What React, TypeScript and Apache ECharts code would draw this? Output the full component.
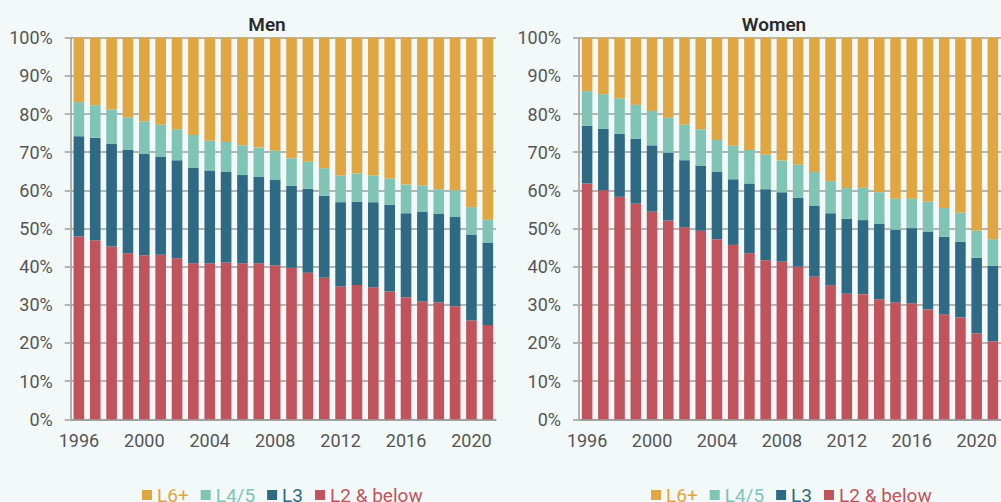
import React, { useEffect, useRef } from 'react';
import * as echarts from 'echarts';

const years = ['1996','1997','1998','1999','2000','2001','2002','2003','2004','2005','2006','2007','2008','2009','2010','2011','2012','2013','2014','2015','2016','2017','2018','2019','2020','2021'];

const seriesNames = ['L2 & below', 'L3', 'L4/5', 'L6+'];
const legendOrder = ['L6+', 'L4/5', 'L3', 'L2 & below'];

const menL2 = [47.9,46.9,45.3,43.5,43.0,43.1,42.2,40.9,40.9,41.1,40.9,40.9,40.3,39.7,38.4,37.1,34.8,35.2,34.6,33.5,32.0,30.9,30.6,29.6,25.9,24.7];
const menL3 = [26.3,26.9,26.9,27.1,26.5,25.8,25.7,25.0,24.3,23.7,23.1,22.6,22.4,21.5,22.0,21.5,22.1,21.8,22.3,22.7,22.0,23.4,23.2,23.4,22.5,21.5];
const menL45 = [8.9,8.5,9.0,8.5,8.6,8.3,8.1,8.6,7.8,7.9,7.8,7.7,7.7,7.2,7.1,7.2,7.0,7.4,7.0,6.9,7.5,7.0,6.5,7.0,7.2,6.1];
const menL6 = [16.9,17.7,18.8,20.9,21.9,22.8,24.0,25.5,27.0,27.3,28.2,28.8,29.6,31.6,32.5,34.2,36.1,35.6,36.1,36.9,38.5,38.7,39.7,40.0,44.4,47.7];

const womenL2 = [61.8,60.0,58.3,56.5,54.4,52.1,50.3,49.4,47.2,45.7,43.5,41.7,41.3,40.0,37.4,35.1,32.9,32.8,31.4,30.6,30.4,28.8,27.5,26.7,22.5,20.4];
const womenL3 = [15.1,16.1,16.5,17.0,17.4,17.8,17.6,17.1,17.6,17.2,18.3,18.6,18.2,18.0,18.5,18.9,19.6,19.4,19.8,19.1,19.7,20.4,20.3,19.8,19.8,19.8];
const womenL45 = [9.1,9.1,9.3,8.9,9.0,9.1,9.3,9.5,8.4,8.8,8.8,9.0,8.3,8.7,8.9,8.4,8.1,8.5,8.3,8.1,7.7,7.8,7.6,7.6,7.1,7.0];
const womenL6 = [14.0,14.8,15.9,17.6,19.2,21.0,22.8,24.0,26.8,28.3,29.4,30.7,32.2,33.3,35.2,37.6,39.4,39.3,40.5,42.2,42.2,43.0,44.6,45.9,50.6,52.8];

const panelTitles = ['Men', 'Women'];

const colors: Record<string, string> = {
  'L6+': '#e0a642',
  'L4/5': '#80c4b5',
  'L3': '#2e6a83',
  'L2 & below': '#c0535c',
};

const BG = '#f3f8f8';
const FONT = 'Roboto, "DejaVu Sans", sans-serif';

export default function App() {
  const ref = useRef<HTMLDivElement>(null);
  useEffect(() => {
    if (!ref.current) return;
    const chart = echarts.init(ref.current, null, { renderer: 'svg', width: 1001, height: 502 });
    const panels = [
      { left: 70.7, data: [menL2, menL3, menL45, menL6], titleX: 267, legendLeft: 137 },
      { left: 579, data: [womenL2, womenL3, womenL45, womenL6], titleX: 774, legendLeft: 646 },
    ];
    const gridW = 425.3;
    const option: any = {
      animation: false,
      backgroundColor: BG,
      grid: panels.map((p) => ({ left: p.left, top: 37.7, width: gridW, height: 381.6 })),
      xAxis: panels.map((p, i) => ({
        type: 'category',
        gridIndex: i,
        data: years,
        axisLine: { show: true, lineStyle: { color: '#9a9a9a', width: 1.5 } },
        axisTick: { show: false },
        axisLabel: { interval: 3, color: '#555', fontSize: 18, fontFamily: FONT, margin: 12 },
      })),
      yAxis: panels.map((p, i) => ({
        type: 'value',
        gridIndex: i,
        min: 0,
        max: 100,
        interval: 10,
        axisLine: { show: true, lineStyle: { color: '#9a9a9a', width: 1.5 } },
        axisTick: { show: true, length: 6, lineStyle: { color: '#b5b5b5', width: 2 } },
        splitLine: { show: true, lineStyle: { color: '#b5b5b5', width: 2 } },
        axisLabel: { formatter: '{value}%', color: '#555', fontSize: 18, fontFamily: FONT, margin: 18 },
      })),
      legend: panels.map((p) => ({
        left: p.legendLeft,
        top: 480.5,
        icon: 'rect',
        itemWidth: 10,
        itemHeight: 10,
        itemGap: 12,
        textStyle: { fontSize: 19, fontFamily: FONT },
        data: legendOrder.map((n) => ({ name: n, textStyle: { color: colors[n] } })),
      })),
      graphic: panels.map((p, i) => ({
        type: 'text',
        x: p.titleX,
        y: 24,
        style: {
          text: panelTitles[i],
          textAlign: 'center',
          textVerticalAlign: 'middle',
          align: 'center',
          verticalAlign: 'middle',
          font: '600 19px ' + FONT,
          fill: '#2b2b2b',
        },
      })),
      series: panels.flatMap((p, i) =>
        seriesNames.map((n, k) => ({
          type: 'bar',
          name: n,
          xAxisIndex: i,
          yAxisIndex: i,
          stack: 'panel' + i,
          barWidth: '65%',
          itemStyle: { color: colors[n] },
          data: p.data[k],
        }))
      ),
    };
    chart.setOption(option);
    return () => chart.dispose();
  }, []);
  return (
    <div style={{ position: 'fixed', left: 0, top: 0, width: 1001, height: 502, overflow: 'hidden', background: BG }}>
      <div ref={ref} style={{ width: 1001, height: 502 }} />
    </div>
  );
}
